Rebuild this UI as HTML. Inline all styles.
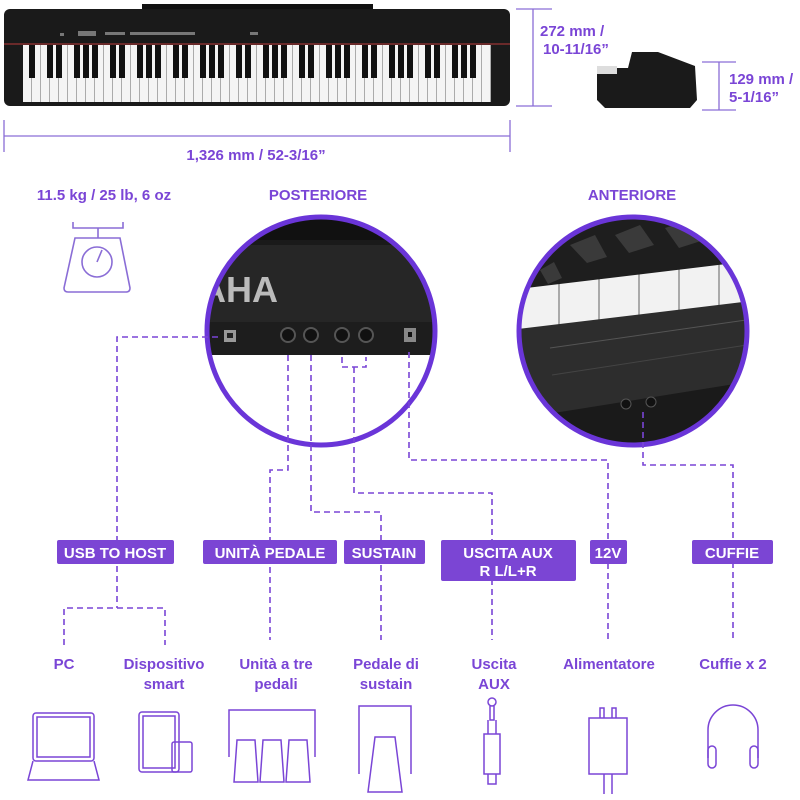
<!DOCTYPE html><html><head><meta charset="utf-8"><style>body{margin:0;background:#fff}svg{display:block}text{font-family:"Liberation Sans",sans-serif;font-weight:bold}</style></head><body>
<svg width="800" height="800" viewBox="0 0 800 800">
<defs>
<clipPath id="c1"><circle cx="321" cy="331" r="114"/></clipPath>
<clipPath id="c2"><circle cx="633" cy="331" r="114"/></clipPath>
<pattern id="wk" x="23" y="0" width="9" height="10" patternUnits="userSpaceOnUse"><rect width="9" height="10" fill="#f4f4f4"/><rect x="8.2" width="0.8" height="10" fill="#999"/></pattern>
<pattern id="wk2" x="520" y="0" width="40" height="10" patternUnits="userSpaceOnUse"><rect width="40" height="10" fill="#f2f2f2"/><rect x="38" width="2" height="10" fill="#aaa"/></pattern>
</defs>
<!-- piano -->
<rect x="142" y="4" width="231" height="6" fill="#111"/>
<rect x="4" y="9" width="506" height="97" rx="6" fill="#1a1a1a"/>
<rect x="23" y="45" width="468" height="57" fill="url(#wk)"/>
<rect x="4" y="43" width="506" height="2" fill="#6a2a2a"/>
<g fill="#111">
<rect x="29" y="45" width="6" height="33"/><rect x="47" y="45" width="6" height="33"/><rect x="56" y="45" width="6" height="33"/><rect x="74" y="45" width="6" height="33"/><rect x="83" y="45" width="6" height="33"/><rect x="92" y="45" width="6" height="33"/><rect x="110" y="45" width="6" height="33"/><rect x="119" y="45" width="6" height="33"/><rect x="137" y="45" width="6" height="33"/><rect x="146" y="45" width="6" height="33"/><rect x="155" y="45" width="6" height="33"/><rect x="173" y="45" width="6" height="33"/><rect x="182" y="45" width="6" height="33"/><rect x="200" y="45" width="6" height="33"/><rect x="209" y="45" width="6" height="33"/><rect x="218" y="45" width="6" height="33"/><rect x="236" y="45" width="6" height="33"/><rect x="245" y="45" width="6" height="33"/><rect x="263" y="45" width="6" height="33"/><rect x="272" y="45" width="6" height="33"/><rect x="281" y="45" width="6" height="33"/><rect x="299" y="45" width="6" height="33"/><rect x="308" y="45" width="6" height="33"/><rect x="326" y="45" width="6" height="33"/><rect x="335" y="45" width="6" height="33"/><rect x="344" y="45" width="6" height="33"/><rect x="362" y="45" width="6" height="33"/><rect x="371" y="45" width="6" height="33"/><rect x="389" y="45" width="6" height="33"/><rect x="398" y="45" width="6" height="33"/><rect x="407" y="45" width="6" height="33"/><rect x="425" y="45" width="6" height="33"/><rect x="434" y="45" width="6" height="33"/><rect x="452" y="45" width="6" height="33"/><rect x="461" y="45" width="6" height="33"/><rect x="470" y="45" width="6" height="33"/>
</g>
<g fill="#777"><rect x="60" y="33" width="4" height="3"/><rect x="78" y="31" width="18" height="5"/><rect x="105" y="32" width="20" height="3"/><rect x="130" y="32" width="65" height="3"/><rect x="250" y="32" width="8" height="3"/></g>
<!-- dims -->
<g stroke="#8a6dd6" stroke-width="1.3" fill="none">
<line x1="516" y1="9" x2="552" y2="9"/><line x1="516" y1="106" x2="552" y2="106"/><line x1="533" y1="9" x2="533" y2="106"/>
<line x1="702" y1="62" x2="736" y2="62"/><line x1="702" y1="110" x2="736" y2="110"/><line x1="719" y1="62" x2="719" y2="110"/>
<line x1="4" y1="136" x2="510" y2="136"/><line x1="4" y1="120" x2="4" y2="152"/><line x1="510" y1="120" x2="510" y2="152"/>
</g>
<g fill="#7a45d6" font-size="15">
<text x="540" y="36">272 mm /</text><text x="543" y="54">10-11/16”</text>
<text x="729" y="84">129 mm /</text><text x="729" y="102">5-1/16”</text>
<text x="256" y="160" text-anchor="middle">1,326 mm / 52-3/16”</text>
<text x="104" y="200" text-anchor="middle">11.5 kg / 25 lb, 6 oz</text>
<text x="318" y="200" text-anchor="middle">POSTERIORE</text>
<text x="632" y="200" text-anchor="middle">ANTERIORE</text>
</g>
<!-- side view -->
<path d="M597 68 L628 68 L632 52 L658 52 L695 66 L697 100 L690 108 L605 108 L597 100Z" fill="#1a1a1a"/>
<rect x="597" y="66" width="20" height="8" fill="#ddd"/>
<!-- scale -->
<g stroke="#8a6dd6" stroke-width="1.6" fill="none">
<path d="M73 222 v6 h50 v-6"/><line x1="98" y1="228" x2="98" y2="238"/>
<path d="M75 238 h45 l10 50 q0 4 -4 4 h-58 q-4 0 -4 -4z"/><circle cx="97" cy="262" r="15"/><line x1="97" y1="262" x2="102" y2="250"/>
</g>
<!-- circle 1 -->
<g clip-path="url(#c1)"><rect x="200" y="210" width="250" height="250" fill="#262626"/>
<rect x="200" y="210" width="250" height="30" fill="#111"/>
<rect x="200" y="240" width="250" height="5" fill="#1a1a1a"/>
<rect x="200" y="355" width="250" height="110" fill="#fff"/>
<text x="200" y="302" font-size="36" fill="#bbb">AHA</text>
<rect x="200" y="322" width="240" height="33" fill="#1d1d1d"/>
<rect x="224" y="330" width="12" height="12" fill="#999"/><rect x="227" y="333" width="6" height="5" fill="#222"/>
<g fill="#111" stroke="#555" stroke-width="2"><circle cx="288" cy="335" r="7"/><circle cx="311" cy="335" r="7"/><circle cx="342" cy="335" r="7"/><circle cx="366" cy="335" r="7"/></g>
<rect x="404" y="328" width="12" height="14" fill="#888"/><rect x="408" y="332" width="4" height="5" fill="#111"/></g>
<circle cx="321" cy="331" r="114" fill="none" stroke="#6a35d8" stroke-width="5"/>
<!-- circle 2 -->
<g clip-path="url(#c2)"><rect x="510" y="210" width="250" height="250" fill="#1e1e1e"/>
<path d="M510 290 L760 260 L760 310 L510 330Z" fill="url(#wk2)"/>
<path d="M510 330 L760 300 L760 420 L510 460Z" fill="#2d2d2d"/>
<line x1="550" y1="348" x2="760" y2="318" stroke="#555"/>
<line x1="552" y1="375" x2="760" y2="343" stroke="#444"/>
<path d="M510 420 L760 380 L760 460 L510 460Z" fill="#1a1a1a"/>
<g fill="#3a3a3a"><path d="M540 270 l14 -8 l8 16 l-14 6z"/><path d="M570 245 l25 -10 l12 22 l-20 6z"/><path d="M615 235 l25 -10 l14 20 l-25 8z"/><path d="M665 228 l25 -8 l14 20 l-25 8z"/></g>
<circle cx="626" cy="404" r="5" fill="#111" stroke="#555"/><circle cx="651" cy="402" r="5" fill="#111" stroke="#555"/></g>
<circle cx="633" cy="331" r="114" fill="none" stroke="#6a35d8" stroke-width="5"/>
<!-- connectors -->
<g stroke="#7a45d6" stroke-width="1.6" fill="none" stroke-dasharray="6,4">
<path d="M218 337 H117 V608"/><path d="M64 645 V608 H165 V645"/>
<path d="M288 355 V470 H270 V640"/>
<path d="M311 355 V512 H381 V640"/>
<path d="M342 357 V367 H366 V357 M354 367 V493 H492 V640"/>
<path d="M409 352 V460 H608 V640"/>
<path d="M643 412 V465 H733 V640"/>
</g>
<!-- labels -->
<g fill="#7b45d4"><rect x="57" y="540" width="117" height="24" rx="2"/><rect x="203" y="540" width="134" height="24" rx="2"/><rect x="344" y="540" width="81" height="24" rx="2"/><rect x="441" y="540" width="135" height="41" rx="2"/><rect x="590" y="540" width="37" height="24" rx="2"/><rect x="692" y="540" width="81" height="24" rx="2"/></g>
<g fill="#fff" font-size="15" text-anchor="middle">
<text x="115" y="558">USB TO HOST</text><text x="270" y="558">UNITÀ PEDALE</text><text x="384" y="558">SUSTAIN</text><text x="508" y="558">USCITA AUX</text><text x="508" y="576">R L/L+R</text><text x="608" y="558">12V</text><text x="732" y="558">CUFFIE</text>
</g>
<g fill="#7a45d6" font-size="15" text-anchor="middle">
<text x="64" y="669">PC</text><text x="164" y="669">Dispositivo</text><text x="164" y="689">smart</text>
<text x="276" y="669">Unità a tre</text><text x="276" y="689">pedali</text>
<text x="386" y="669">Pedale di</text><text x="386" y="689">sustain</text>
<text x="494" y="669">Uscita</text><text x="494" y="689">AUX</text>
<text x="609" y="669">Alimentatore</text><text x="733" y="669">Cuffie x 2</text>
</g>
<!-- icons -->
<g stroke="#7a45d6" stroke-width="1.5" fill="none">
<rect x="33" y="713" width="61" height="48" rx="3"/><rect x="37" y="717" width="53" height="40"/><path d="M33 761 L28 780 H99 L94 761"/>
<rect x="139" y="712" width="40" height="60" rx="3"/><rect x="143" y="716" width="32" height="52"/><rect x="172" y="742" width="20" height="30" rx="2"/>
<path d="M229 757 V710 H315 V757"/><path d="M237 740 h18 l3 42 h-24z M263 740 h18 l3 42 h-24z M289 740 h18 l3 42 h-24z"/>
<path d="M359 774 V706 H411 V774"/><path d="M375 737 h20 l7 55 h-34z"/>
<circle cx="492" cy="702" r="4"/><path d="M490 706 v14 h4 v-14 M488 720 v14 h8 v-14 M484 734 h16 v40 h-16z M488 774 v10 h8 v-10"/>
<path d="M600 718 v-10 h4 v10 M612 718 v-10 h4 v10"/><rect x="589" y="718" width="38" height="56"/><path d="M604 774 v20 M612 774 v20"/>
<path d="M708 758 V730 a25 25 0 0 1 50 0 V758"/><rect x="708" y="746" width="8" height="22" rx="4"/><rect x="750" y="746" width="8" height="22" rx="4"/>
</g>
</svg></body></html>
